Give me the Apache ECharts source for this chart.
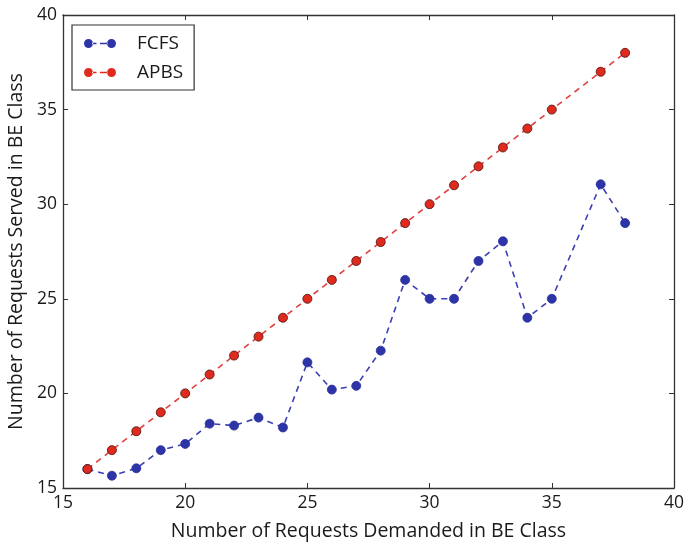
<!DOCTYPE html>
<html><head><meta charset="utf-8">
<script src="https://cdn.jsdelivr.net/npm/echarts@6/dist/echarts.min.js"></script>
<style>html,body{margin:0;padding:0;background:#fff}#c{width:686px;height:546px}</style>
</head><body><div id="c"></div>
<script>
const xFCFS = [16,17,18,19,20,21,22,23,24,25,26,27,28,29,30,31,32,33,34,35,37,38];
const yFCFS = [16.0,15.65,16.04,17.0,17.33,18.4,18.3,18.72,18.2,21.64,20.2,20.4,22.26,26.0,25.0,25.0,27.0,28.04,24.0,25.0,31.05,29.0];
const xAPBS = [16,17,18,19,20,21,22,23,24,25,26,27,28,29,30,31,32,33,34,35,37,38];
const yAPBS = [16,17,18,19,20,21,22,23,24,25,26,27,28,29,30,31,32,33,34,35,37,38];
const xTicks = [15,20,25,30,35,40];
const yTicks = [15,20,25,30,35,40];
const seriesNames = ['FCFS','APBS'];
const xLabel = 'Number of Requests Demanded in BE Class';
const yLabel = 'Number of Requests Served in BE Class';

const font = '"Open Sans", sans-serif';
const legendIcon = 'path://M0,4.5a4.5,4.5 0 1,0 9,0a4.5,4.5 0 1,0 -9,0Z' +
  'M8,3.7h4.5v1.6h-4.5Z M16,3.7h7.5v1.6h-7.5Z' +
  'M23,4.5a4.5,4.5 0 1,0 9,0a4.5,4.5 0 1,0 -9,0Z';
const chart = echarts.init(document.getElementById('c'), null, {renderer:'canvas'});
const axisLineStyle = {color:'#333', width:1.3};
function baseAxis(pos, show, ticks, extra) {
  return Object.assign({
    type:'value', min:ticks[0], max:ticks[ticks.length-1], interval:5, position:pos,
    axisLine:{show:true, onZero:false, lineStyle:axisLineStyle},
    axisTick:{show:true, inside:true, length:5, lineStyle:{color:'#333'}},
    axisLabel:{show:show, color:'#1a1a1a', fontFamily:font, fontSize:17.5, margin:6},
    splitLine:{show:false}
  }, extra||{});
}
chart.setOption({
  animation:false,
  backgroundColor:'#fff',
  grid:{left:63, right:12, top:15, bottom:58, outerBoundsMode:'none', containLabel:false},
  legend:{
    left:72, top:25, orient:'vertical', itemGap:10, itemWidth:32, itemHeight:9,
    padding:[9,11,8,12],
    borderColor:'#333', borderWidth:1.2, backgroundColor:'#fff',
    textStyle:{fontFamily:font, fontSize:19, color:'#1a1a1a', padding:[0,0,0,16]},
    data: [
      {name:seriesNames[0], icon:legendIcon, itemStyle:{color:'#2c34a8', borderWidth:0}},
      {name:seriesNames[1], icon:legendIcon, itemStyle:{color:'#e02a1e', borderWidth:0}}
    ]
  },
  xAxis:[
    baseAxis('bottom', true, xTicks, {name:xLabel, nameLocation:'middle', nameGap:33,
      nameTextStyle:{fontFamily:font, fontSize:19.5, color:'#1a1a1a'}}),
    baseAxis('top', false, xTicks)
  ],
  yAxis:[
    baseAxis('left', true, yTicks, {name:yLabel, nameLocation:'middle', nameGap:37,
      nameTextStyle:{fontFamily:font, fontSize:19.5, color:'#1a1a1a'}}),
    baseAxis('right', false, yTicks)
  ],
  series:[
    {name:seriesNames[0], type:'line', xAxisIndex:0, yAxisIndex:0,
     data: xFCFS.map((x,i)=>[x,yFCFS[i]]),
     symbol:'circle', symbolSize:9,
     lineStyle:{color:'#3a3fb4', width:1.6, type:[6,5]},
     itemStyle:{color:'#2c34a8', borderColor:'#2a2f9a', borderWidth:0.8},
     z:3},
    {name:seriesNames[1], type:'line', xAxisIndex:0, yAxisIndex:0,
     data: xAPBS.map((x,i)=>[x,yAPBS[i]]),
     symbol:'circle', symbolSize:9,
     lineStyle:{color:'#e04040', width:1.6, type:[6,5]},
     itemStyle:{color:'#e02a1e', borderColor:'#5a1a14', borderWidth:0.9},
     z:4}
  ]
});
</script></body></html>
